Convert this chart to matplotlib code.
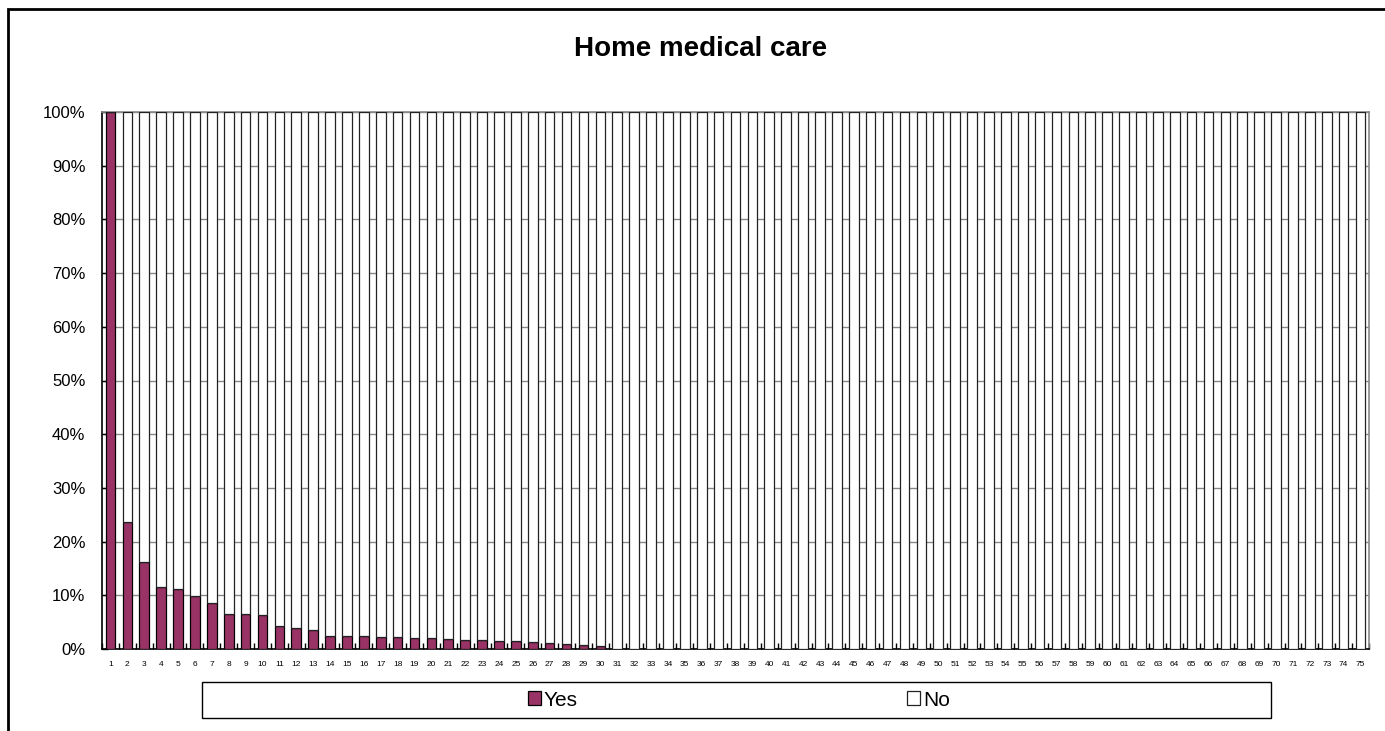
import matplotlib
matplotlib.use("Agg")
import matplotlib.pyplot as plt
from matplotlib.patches import Rectangle
from matplotlib.ticker import FixedLocator, PercentFormatter

plt.rcParams['font.family'] = ['Liberation Sans', 'DejaVu Sans']

categories = [str(i) for i in range(1, 76)]

# share answering "Yes" (%)
yes_pct = [100.0, 23.7, 16.2, 11.5, 11.15, 9.9, 8.5, 6.6, 6.6, 6.4,
           4.2, 3.9, 3.6, 2.5, 2.5, 2.35, 2.3, 2.15, 2.0, 2.0,
           1.9, 1.65, 1.6, 1.55, 1.45, 1.25, 1.15, 1.0, 0.8, 0.6,
           0, 0, 0, 0, 0, 0, 0, 0, 0, 0,
           0, 0, 0, 0, 0, 0, 0, 0, 0, 0,
           0, 0, 0, 0, 0, 0, 0, 0, 0, 0,
           0, 0, 0, 0, 0, 0, 0, 0, 0, 0,
           0, 0, 0, 0, 0]
no_pct = [0.0, 76.3, 83.8, 88.5, 88.85, 90.1, 91.5, 93.4, 93.4, 93.6,
          95.8, 96.1, 96.4, 97.5, 97.5, 97.65, 97.7, 97.85, 98.0, 98.0,
          98.1, 98.35, 98.4, 98.45, 98.55, 98.75, 98.85, 99.0, 99.2, 99.4,
          100, 100, 100, 100, 100, 100, 100, 100, 100, 100,
          100, 100, 100, 100, 100, 100, 100, 100, 100, 100,
          100, 100, 100, 100, 100, 100, 100, 100, 100, 100,
          100, 100, 100, 100, 100, 100, 100, 100, 100, 100,
          100, 100, 100, 100, 100]

W, H = 1385, 731
fig = plt.figure(figsize=(W / 100, H / 100), dpi=100)
ax = fig.add_axes([102 / W, 1 - 649 / H, (1369 - 102) / W, (649 - 112) / H])

x = list(range(1, len(categories) + 1))
ax.bar(x, yes_pct, width=0.57, color='#993366', edgecolor='black', linewidth=0.9,
       label='Yes', zorder=3)
ax.bar(x, no_pct, width=0.57, bottom=yes_pct, color='white', edgecolor='#222222',
       linewidth=0.9, label='No', zorder=3)

ax.set_xlim(0.5, len(categories) + 0.5)
ax.set_ylim(0, 100)
ax.yaxis.set_major_locator(FixedLocator(range(0, 101, 10)))
ax.yaxis.set_major_formatter(PercentFormatter(decimals=0))
ax.yaxis.grid(True, color='#888888', linewidth=1, zorder=0)

ax.set_xticks(x)
ax.set_xticklabels(categories, fontsize=6)
ax.set_xticks([i + 0.5 for i in range(0, len(categories) + 1)], minor=True)
ax.tick_params(axis='x', which='major', length=0, pad=9)
ax.tick_params(axis='x', which='minor', direction='in', length=4, width=1)
ax.tick_params(axis='y', direction='in', length=4, width=1, labelsize=12, pad=12)

for side in ['left', 'bottom']:
    ax.spines[side].set_color('black')
    ax.spines[side].set_linewidth(1.2)
for side in ['top', 'right']:
    ax.spines[side].set_color('#888888')
    ax.spines[side].set_linewidth(1.2)

fig.text(701 / W, 1 - 49 / H, 'Home medical care', ha='center', va='center',
         fontsize=20, fontweight='bold')

# legend box and entries
fig.patches.append(Rectangle((202 / W, 1 - 718 / H), 1069 / W, 36 / H,
                             transform=fig.transFigure, fill=False,
                             edgecolor='black', linewidth=1))
fig.legend(loc='center', bbox_to_anchor=(739 / W, 1 - 700 / H), ncol=2,
           frameon=False, fontsize=15, handlelength=0.62, handleheight=0.62,
           handletextpad=0.15, columnspacing=15.8)

# outer chart border
fig.patches.append(Rectangle((8 / W, -0.1), 1.2, 1.1 - 9 / H,
                             transform=fig.transFigure, fill=False,
                             edgecolor='black', linewidth=2))

fig.savefig('out.png', dpi=100)
